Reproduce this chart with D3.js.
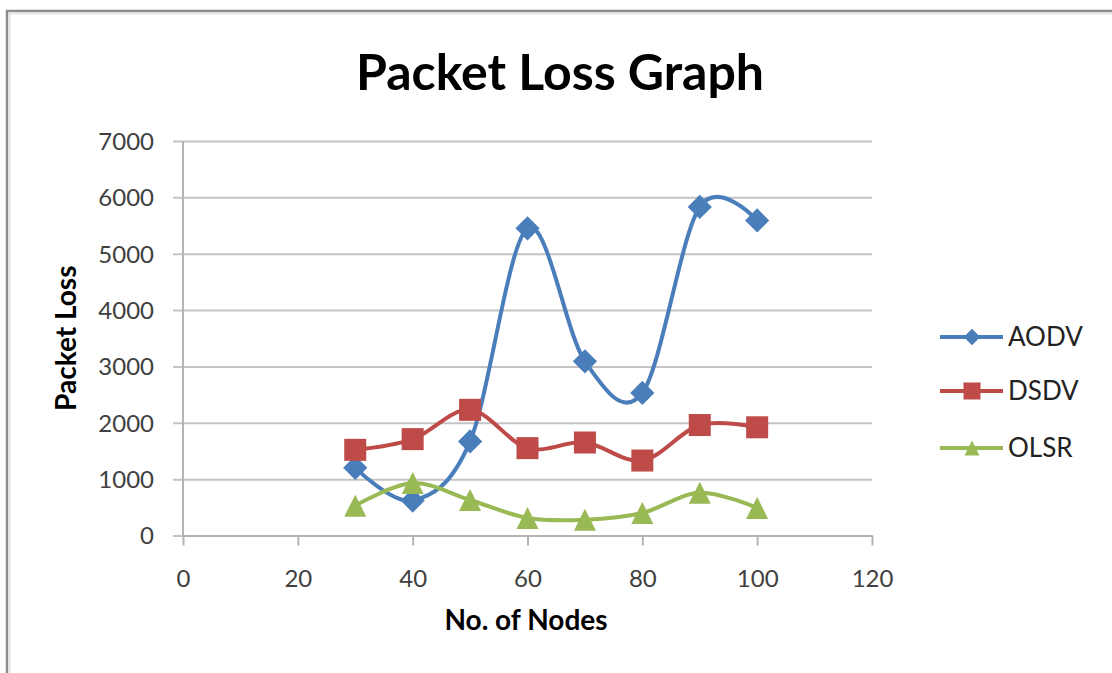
<!DOCTYPE html>
<html>
<head>
<meta charset="utf-8">
<script src="https://cdn.jsdelivr.net/npm/d3@7"></script>
<style>
  html, body { margin: 0; padding: 0; background: #fff; }
  svg { display: block; }
  text { font-family: Lato, "Open Sans", sans-serif; }
</style>
</head>
<body>
<svg id="chart" width="1112" height="673"></svg>
<script>
// Packet loss per routing protocol against number of nodes
const nodes = [30, 40, 50, 60, 70, 80, 90, 100];
const aodv = [1200, 620, 1670, 5450, 3090, 2530, 5830, 5590];
const dsdv = [1520, 1710, 2230, 1550, 1650, 1330, 1960, 1920];
const olsr = [530, 930, 630, 310, 280, 400, 760, 490];
const seriesNames = ["AODV", "DSDV", "OLSR"];
const seriesColors = ["#4A7EBB", "#BE4B48", "#98B954"];
const xTicks = [0, 20, 40, 60, 80, 100, 120];
const yTicks = [0, 1000, 2000, 3000, 4000, 5000, 6000, 7000];

const series = [
  { name: seriesNames[0], color: seriesColors[0], values: aodv, shape: "diamond" },
  { name: seriesNames[1], color: seriesColors[1], values: dsdv, shape: "square" },
  { name: seriesNames[2], color: seriesColors[2], values: olsr, shape: "triangle" }
];

const svg = d3.select("#chart");

// Frame
svg.append("rect").attr("x", 7).attr("y", 11).attr("width", 1112).attr("height", 700)
  .attr("fill", "#fff").attr("stroke", "#8c8c8c").attr("stroke-width", 2.5);
svg.append("rect").attr("x", 9.5).attr("y", 13.5).attr("width", 1112).attr("height", 700)
  .attr("fill", "none").attr("stroke", "#e4e4e4").attr("stroke-width", 2);

const plot = { left: 183, right: 872, top: 141, bottom: 535.5 };
const x = d3.scaleLinear().domain([0, 120]).range([plot.left, plot.right]);
const y = d3.scaleLinear().domain([0, 7000]).range([plot.bottom, plot.top]);

// Horizontal gridlines via y axis
const yAxis = d3.axisLeft(y).tickValues(yTicks).tickFormat(d3.format("d"))
  .tickSize(-(plot.right - plot.left)).tickSizeOuter(0).tickPadding(20);
const gy = svg.append("g").attr("transform", `translate(${plot.left},0)`).call(yAxis);
gy.select(".domain").remove();
gy.selectAll(".tick line").attr("stroke", "#c4c4c4").attr("stroke-width", 2)
  .attr("x1", -10);
gy.selectAll(".tick text").attr("fill", "#404040").attr("font-size", 24)
  .attr("font-family", "Lato, sans-serif")
  .attr("x", -29).attr("dy", "0.35em");

// Vertical axis line
svg.append("line").attr("x1", plot.left).attr("x2", plot.left)
  .attr("y1", plot.top).attr("y2", plot.bottom + 1)
  .attr("stroke", "#b4b4b4").attr("stroke-width", 2);

// Bottom axis
const xAxis = d3.axisBottom(x).tickValues(xTicks).tickSize(10).tickSizeOuter(0).tickPadding(24);
const gx = svg.append("g").attr("transform", `translate(0,${plot.bottom})`).call(xAxis);
gx.select(".domain").attr("stroke", "#b4b4b4").attr("stroke-width", 2);
gx.selectAll(".tick line").attr("stroke", "#b4b4b4").attr("stroke-width", 2);
gx.selectAll(".tick text").attr("fill", "#404040").attr("font-size", 24)
  .attr("font-family", "Lato, sans-serif");

// Title and axis titles
svg.append("text").attr("x", 560).attr("y", 90).attr("text-anchor", "middle")
  .attr("font-size", 50).attr("font-weight", "bold").attr("fill", "#000")
  .text("Packet Loss Graph");
svg.append("text").attr("x", 526).attr("y", 630).attr("text-anchor", "middle")
  .attr("font-size", 28).attr("font-weight", "bold").attr("fill", "#000")
  .text("No. of Nodes");
svg.append("text").attr("transform", `translate(76,${(plot.top + plot.bottom) / 2}) rotate(-90)`)
  .attr("text-anchor", "middle")
  .attr("font-size", 28).attr("font-weight", "bold").attr("fill", "#000")
  .text("Packet Loss");

// Marker shapes
function marker(g, shape, size, color) {
  if (shape === "diamond") {
    const s = size * 0.55;
    g.append("path").attr("d", `M0,${-s}L${s},0L0,${s}L${-s},0Z`).attr("fill", color);
  } else if (shape === "square") {
    const s = size / 2;
    g.append("rect").attr("x", -s).attr("y", -s).attr("width", size).attr("height", size)
      .attr("fill", color);
  } else {
    const s = size / 2;
    g.append("path").attr("d", `M0,${-s}L${s},${s}L${-s},${s}Z`).attr("fill", color);
  }
}

const line = d3.line().x(d => x(d[0])).y(d => y(d[1])).curve(d3.curveCardinal.tension(0));

series.forEach(s => {
  const pts = nodes.map((n, i) => [n, s.values[i]]);
  svg.append("path").datum(pts).attr("d", line)
    .attr("fill", "none").attr("stroke", s.color).attr("stroke-width", 4)
    .attr("stroke-linejoin", "round");
  pts.forEach(p => {
    const g = svg.append("g").attr("transform", `translate(${x(p[0])},${y(p[1])})`);
    marker(g, s.shape, 22, s.color);
  });
});

// Legend
const legendY = [337, 391, 448];
series.forEach((s, i) => {
  const g = svg.append("g").attr("transform", `translate(940,${legendY[i]})`);
  g.append("line").attr("x1", 0).attr("x2", 63).attr("y1", 0).attr("y2", 0)
    .attr("stroke", s.color).attr("stroke-width", 4);
  const m = g.append("g").attr("transform", "translate(32,0)");
  marker(m, s.shape, s.shape === "square" ? 17 : 15, s.color);
  g.append("text").attr("x", 68).attr("dy", "0.36em").attr("font-size", 26)
    .attr("fill", "#222").text(s.name);
});
</script>
</body>
</html>
